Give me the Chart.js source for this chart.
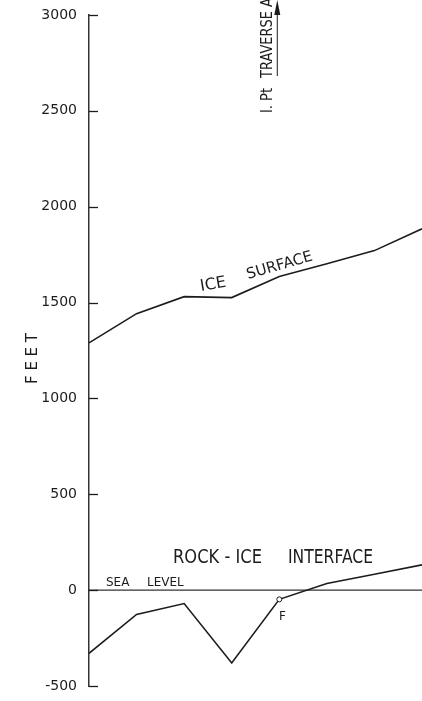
<!DOCTYPE html>
<html>
<head>
<meta charset="utf-8">
<script src="https://cdn.jsdelivr.net/npm/chart.js@4/dist/chart.umd.min.js"></script>
<style>
  body { margin: 0; background: #fff; }
  canvas { display: block; }
</style>
</head>
<body>
<canvas id="profile" width="422" height="701"></canvas>
<script>
// stations along the traverse, elevations in feet
const stations = [0, 1, 2, 3, 4, 5, 6, 7];
const iceSurface = [1290, 1442, 1531, 1526, 1636, 1703, 1771, 1885];
const rockIce = [-330, -127, -70, -380, -48, 35, 83, 132];
const seaLevel = [0, 0, 0, 0, 0, 0, 0, 0];
const yTicks = [-500, 0, 500, 1000, 1500, 2000, 2500, 3000];
const fStation = 4; // point F

const ink = '#1c1c1c';
const font = '"DejaVu Sans", sans-serif';

function pts(vals) {
  return stations.map((s, i) => ({ x: s, y: vals[i] }));
}

function txt(c, s, x, y, size, w, ang) {
  c.save();
  c.translate(x, y);
  c.rotate(ang || 0);
  c.font = size + 'px ' + font;
  c.fillText(s, 0, 0, w);
  c.restore();
}

// inside tick marks and the hand lettering
const notes = {
  id: 'notes',
  afterDraw(chart) {
    const c = chart.ctx;
    const ys = chart.scales.y;
    const xs = chart.scales.x;
    const left = chart.chartArea.left;
    c.save();
    c.strokeStyle = ink;
    c.lineWidth = 1.3;
    yTicks.forEach(v => {
      const py = Math.round(ys.getPixelForValue(v)) + 0.5;
      c.beginPath();
      c.moveTo(left, py);
      c.lineTo(left + 9, py);
      c.stroke();
    });

    c.fillStyle = ink;
    c.textAlign = 'left';
    c.textBaseline = 'alphabetic';

    // ice surface label, lettered along the curve
    txt(c, 'ICE', 201, 291, 16, 29, -0.17);
    txt(c, 'SURFACE', 248, 279, 15, 70, -0.28);

    txt(c, 'ROCK - ICE', 173, 563, 19, 89);
    txt(c, 'INTERFACE', 288, 563, 19, 85);

    txt(c, 'SEA', 106, 586, 12, 25);
    txt(c, 'LEVEL', 147, 586, 12, 37);

    txt(c, 'F', 279, 620, 12, 8);

    // vertical lettering
    txt(c, 'F E E T', 37, 384, 16, 51, -Math.PI / 2);
    txt(c, 'I. Pt', 272, 113, 15, 25, -Math.PI / 2);
    txt(c, 'TRAVERSE A', 272, 78, 15, 80, -Math.PI / 2);

    // traverse arrow
    const ax = xs.getPixelForValue(fStation) - 2;
    c.lineWidth = 1;
    c.beginPath();
    c.moveTo(ax, 76);
    c.lineTo(ax, 10);
    c.stroke();
    c.beginPath();
    c.moveTo(ax, 0);
    c.lineTo(ax - 3, 15);
    c.lineTo(ax + 3, 15);
    c.closePath();
    c.fill();
    c.restore();
  }
};

new Chart(document.getElementById('profile'), {
  type: 'line',
  data: {
    datasets: [
      {
        label: 'Ice surface',
        data: pts(iceSurface),
        borderColor: ink,
        borderWidth: 1.6,
        pointRadius: 0,
        tension: 0
      },
      {
        label: 'Rock-ice interface',
        data: pts(rockIce),
        borderColor: ink,
        borderWidth: 1.6,
        pointRadius: ctx => ctx.dataIndex === fStation ? 2.5 : 0,
        pointBackgroundColor: '#fff',
        pointBorderColor: ink,
        pointBorderWidth: 1,
        tension: 0
      },
      {
        label: 'Sea level',
        data: pts(seaLevel),
        borderColor: '#333',
        borderWidth: 1.1,
        pointRadius: 0,
        tension: 0
      }
    ]
  },
  options: {
    responsive: false,
    animation: false,
    layout: { padding: { top: 15, bottom: 15, right: 0, left: 0 } },
    plugins: {
      legend: { display: false },
      tooltip: { enabled: false }
    },
    scales: {
      x: {
        type: 'linear',
        min: 0,
        max: 7,
        display: false
      },
      y: {
        min: -500,
        max: 3000,
        afterFit(scale) { scale.width = 89; },
        grid: { display: false },
        border: { display: true, color: '#333', width: 1.5 },
        ticks: {
          stepSize: 500,
          padding: 4,
          color: ink,
          font: { family: font, size: 14 },
          callback: v => String(v)
        }
      }
    }
  },
  plugins: [notes]
});
</script>
</body>
</html>
